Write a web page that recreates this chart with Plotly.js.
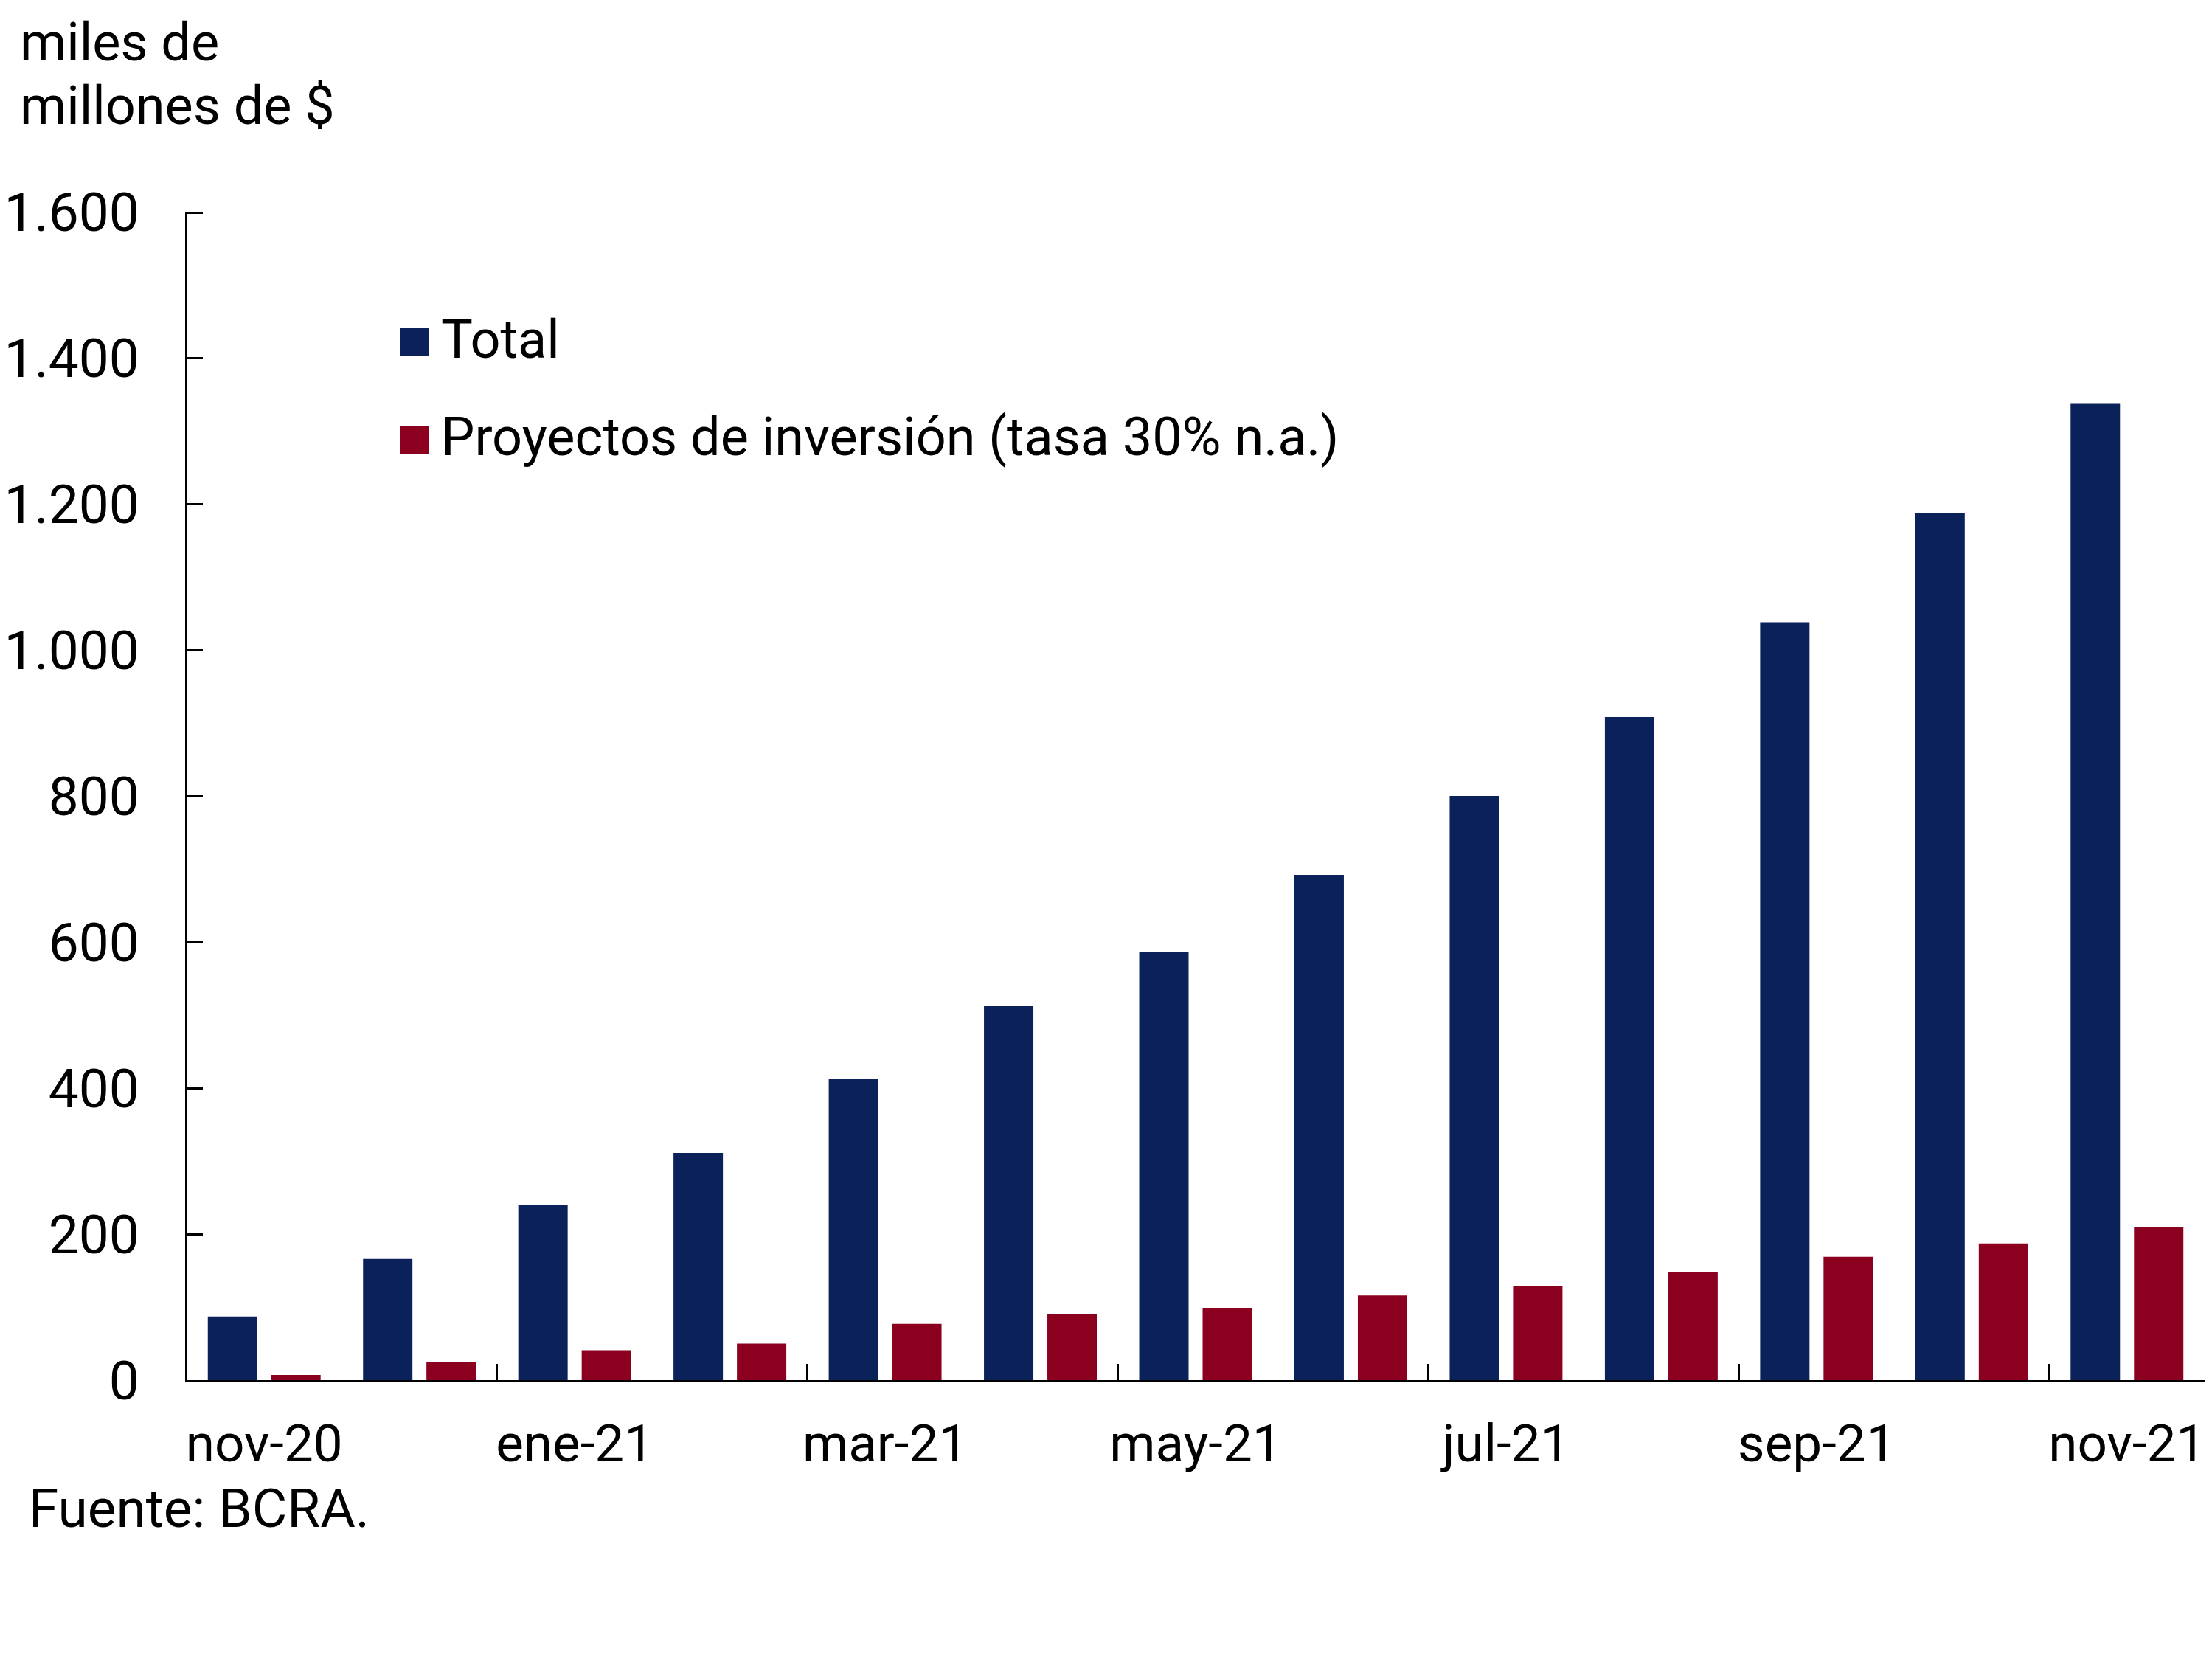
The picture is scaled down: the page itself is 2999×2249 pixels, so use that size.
<!DOCTYPE html>
<html>
<head>
<meta charset="utf-8">
<script src="https://cdn.plot.ly/plotly-3.0.1.min.js"></script>
<style>html,body{margin:0;padding:0;background:#fff;}#chart{width:2999px;height:2249px;}</style>
</head>
<body>
<div id="chart"></div>
<script>
// ---- data ----
const categories = ['nov-20','dic-20','ene-21','feb-21','mar-21','abr-21','may-21','jun-21','jul-21','ago-21','sep-21','oct-21','nov-21'];
const totalValues = [87, 166, 240, 311, 412, 512, 586, 692, 800, 908, 1038, 1187, 1338];
const proyectosValues = [7, 25, 41, 50, 77, 91, 99, 116, 129, 148, 169, 187, 210];
const seriesNames = ['Total', 'Proyectos de inversión (tasa 30% n.a.)'];
const tickLabels = ['nov-20','ene-21','mar-21','may-21','jul-21','sep-21','nov-21'];
const yTicks = [0, 200, 400, 600, 800, 1000, 1200, 1400, 1600];
const yUnitLines = ['miles de', 'millones de $'];
const sourceNote = 'Fuente: BCRA.';

// ---- styling / layout ----
const colors = ['#0A215A', '#8B001F'];
const W = 2999, H = 2249, L = 253, R = 10, T = 287, B = 378;
const PW = W - L - R, PH = H - T - B;
const px2x = x => (x - L) / PW;
const px2y = y => (H - B - y) / PH;
const FONT = 'Roboto, "Open Sans", sans-serif';
const yMax = yTicks[yTicks.length - 1];

// boundary ticks between every second category (on a helper axis)
const boundaryTicks = [];
for (let i = 1; i < categories.length - 1; i += 2) boundaryTicks.push(i + 0.5);

const traces = [
  {type: 'bar', name: seriesNames[0], x: categories, y: totalValues, marker: {color: colors[0]}, showlegend: false},
  {type: 'bar', name: seriesNames[1], x: categories, y: proyectosValues, marker: {color: colors[1]}, showlegend: false},
  // empty helper traces so the tick-only axes get drawn
  {type: 'scatter', mode: 'markers', x: [], y: [], xaxis: 'x2', yaxis: 'y', showlegend: false, hoverinfo: 'skip'},
  {type: 'scatter', mode: 'markers', x: [], y: [], xaxis: 'x', yaxis: 'y2', showlegend: false, hoverinfo: 'skip'}
];

const annotations = [];
const shapes = [];
const titleBaselines = [82, 168];
yUnitLines.forEach((t, i) => {
  annotations.push({text: t, xref: 'paper', yref: 'paper', x: px2x(26), y: px2y(titleBaselines[i] - 25),
    xanchor: 'left', yanchor: 'middle', showarrow: false, borderpad: 0, font: {family: FONT, size: 72, color: '#000'}});
});
annotations.push({text: sourceNote, xref: 'paper', yref: 'paper', x: px2x(38), y: px2y(2070 - 25),
  xanchor: 'left', yanchor: 'middle', showarrow: false, borderpad: 0, font: {family: FONT, size: 73, color: '#000'}});
const legendCenters = [464, 596];
seriesNames.forEach((n, i) => {
  const cy = legendCenters[i];
  shapes.push({type: 'rect', xref: 'paper', yref: 'paper', x0: px2x(542), x1: px2x(581), y0: px2y(cy + 19), y1: px2y(cy - 19),
    fillcolor: colors[i], line: {width: 0}});
  annotations.push({text: n, xref: 'paper', yref: 'paper', x: px2x(597), y: px2y(cy - 4),
    xanchor: 'left', yanchor: 'middle', showarrow: false, borderpad: 0, font: {family: FONT, size: 72, color: '#000'}});
});

const layout = {
  width: W, height: H,
  margin: {l: L, r: R, t: T, b: B, pad: 0},
  paper_bgcolor: '#fff', plot_bgcolor: '#fff',
  font: {family: FONT, color: '#000', size: 72},
  separators: ',.',
  barmode: 'group', bargap: 0.183, bargroupgap: 0.221,
  showlegend: false,
  xaxis: {
    type: 'category', categoryorder: 'array', categoryarray: categories,
    range: [-0.5, categories.length - 0.5], fixedrange: true,
    tickmode: 'array', tickvals: tickLabels, ticktext: tickLabels,
    ticks: '', showgrid: false, zeroline: false,
    showline: true, linecolor: '#000', linewidth: 3,
    tickfont: {family: FONT, size: 71, color: '#000'}, ticklabelstandoff: 22
  },
  xaxis2: {
    overlaying: 'x', anchor: 'y', side: 'bottom', type: 'linear',
    range: [-0.5, categories.length - 0.5], fixedrange: true,
    tickmode: 'array', tickvals: boundaryTicks, ticks: 'inside', ticklen: 22, tickwidth: 3, tickcolor: '#000',
    showticklabels: false, showgrid: false, zeroline: false, showline: false
  },
  yaxis: {
    range: [0, yMax], fixedrange: true,
    tickmode: 'array', tickvals: yTicks, tickformat: ',d',
    ticks: 'inside', ticklen: 22, tickwidth: 3, tickcolor: '#000',
    showgrid: false, zeroline: false,
    showline: true, linecolor: '#000', linewidth: 2.5,
    tickfont: {family: FONT, size: 73, color: '#000'}, ticklabelstandoff: 47
  },
  // helper axis: only draws the top tick, which Plotly clips at the exact range end
  yaxis2: {
    overlaying: 'y', anchor: 'x', side: 'left', type: 'linear',
    range: [0, yMax + 2], fixedrange: true,
    tickmode: 'array', tickvals: [yMax], ticks: 'inside', ticklen: 22, tickwidth: 3, tickcolor: '#000',
    showticklabels: false, showgrid: false, zeroline: false, showline: false
  },
  annotations: annotations,
  shapes: shapes
};

Plotly.newPlot('chart', traces, layout, {staticPlot: true, displayModeBar: false});
</script>
</body>
</html>
